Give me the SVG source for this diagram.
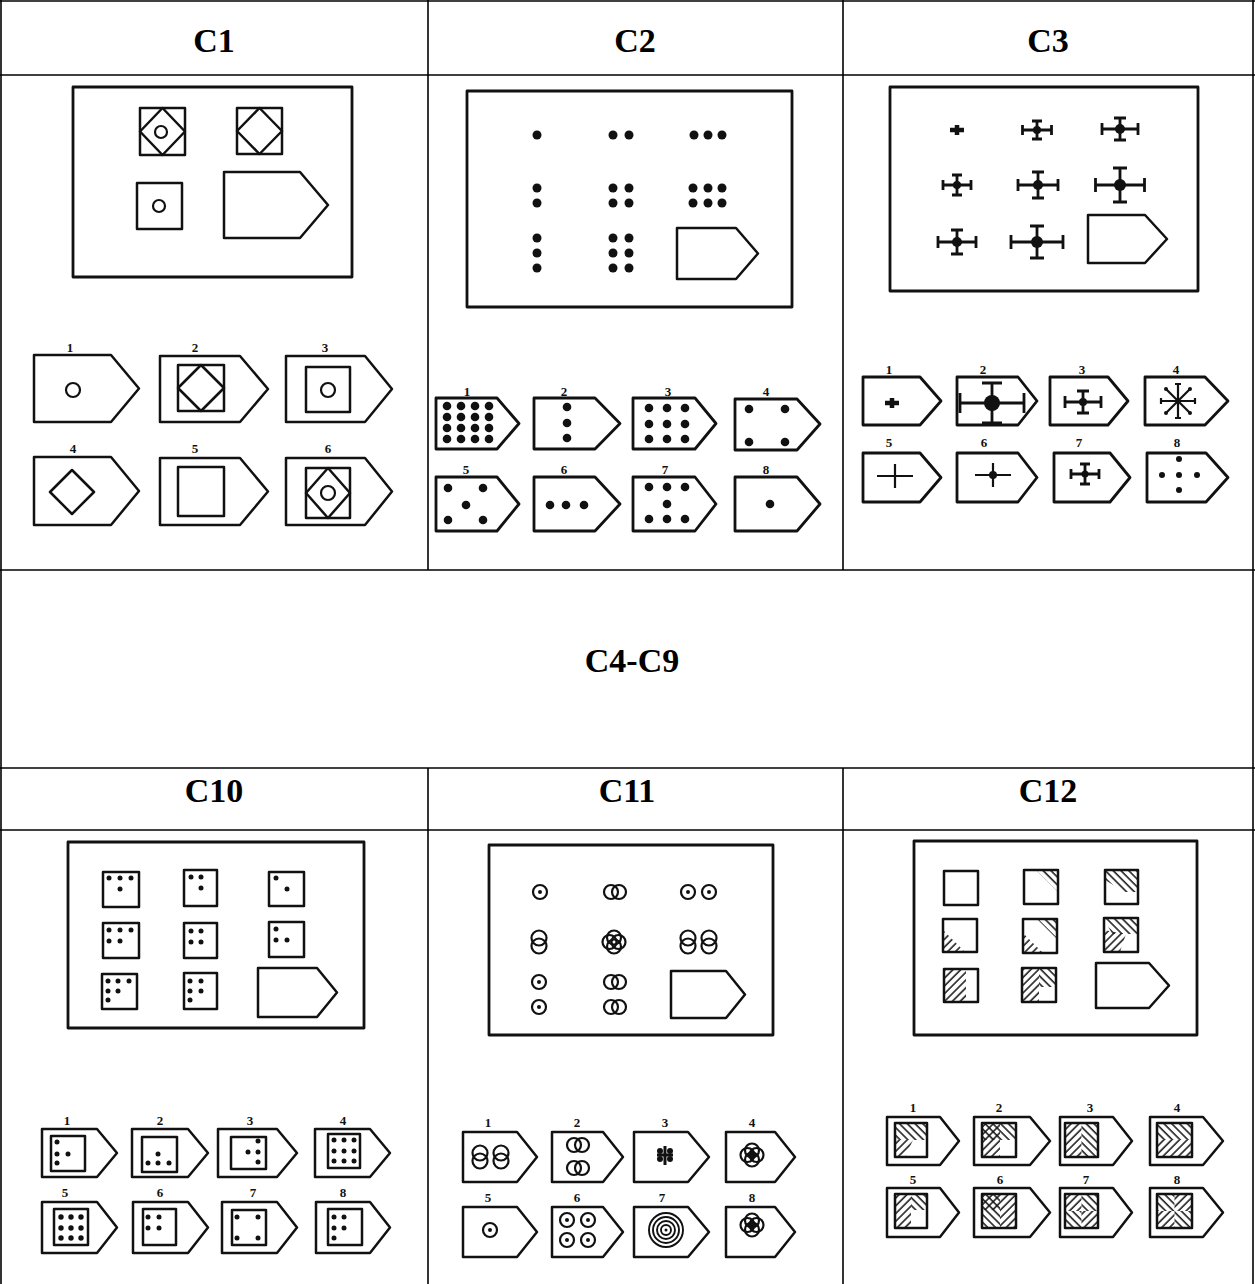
<svg xmlns="http://www.w3.org/2000/svg" width="1255" height="1284" viewBox="0 0 1255 1284">
<style>
.grid{stroke:#000;stroke-width:1.6;fill:none}
.hd{font-family:"Liberation Serif",serif;font-weight:bold;font-size:34px;text-anchor:middle;fill:#000}
.lb{font-family:"Liberation Serif",serif;font-weight:bold;font-size:13px;text-anchor:middle;fill:#111}
.bx{fill:none;stroke:#111;stroke-width:2.8;stroke-linejoin:round}
.sh{fill:none;stroke:#111;stroke-width:2.5;stroke-linejoin:round}
.th{fill:none;stroke:#111;stroke-width:2.2}
.dt{fill:#111}
.cr{fill:none;stroke:#111;stroke-width:2.8}
</style>
<defs>
<pattern id="hs" patternUnits="userSpaceOnUse" width="5.5" height="5.5" patternTransform="rotate(45)"><line x1="1" y1="0" x2="1" y2="5.5" stroke="#111" stroke-width="1.5"/></pattern>
<pattern id="hb" patternUnits="userSpaceOnUse" width="5.5" height="5.5" patternTransform="rotate(-45)"><line x1="1" y1="0" x2="1" y2="5.5" stroke="#111" stroke-width="1.5"/></pattern>
<g id="cd"><circle r="7" fill="none" stroke="#111" stroke-width="2.2"/><circle r="2" fill="#111"/></g>
<g id="hp" fill="none" stroke="#111" stroke-width="2.2"><circle cx="-4" r="7"/><circle cx="4" r="7"/></g>
<g id="vp" fill="none" stroke="#111" stroke-width="2.2"><circle cy="-4" r="7.5"/><circle cy="4" r="7.5"/></g>
<g id="qc" fill="none" stroke="#111" stroke-width="2.2"><circle cx="-4.5" r="7"/><circle cx="4.5" r="7"/><circle cy="-4.5" r="7"/><circle cy="4.5" r="7"/></g>
</defs>

<g id="table">
<line class="grid" x1="0" y1="1" x2="1255" y2="1"/>
<line class="grid" x1="1" y1="0" x2="1" y2="1284"/>
<line class="grid" x1="1253" y1="0" x2="1253" y2="1284"/>
<line class="grid" x1="0" y1="75" x2="1255" y2="75"/>
<line class="grid" x1="0" y1="570" x2="1255" y2="570"/>
<line class="grid" x1="0" y1="768" x2="1255" y2="768"/>
<line class="grid" x1="0" y1="830" x2="1255" y2="830"/>
<line class="grid" x1="428" y1="0" x2="428" y2="570"/>
<line class="grid" x1="843" y1="0" x2="843" y2="570"/>
<line class="grid" x1="428" y1="768" x2="428" y2="1284"/>
<line class="grid" x1="843" y1="768" x2="843" y2="1284"/>
<text class="hd" x="214" y="52">C1</text>
<text class="hd" x="635" y="52">C2</text>
<text class="hd" x="1048" y="52">C3</text>
<text class="hd" x="632" y="672">C4-C9</text>
<text class="hd" x="214" y="802">C10</text>
<text class="hd" x="627" y="802">C11</text>
<text class="hd" x="1048" y="802">C12</text>
</g>

<!-- C1 -->
<g id="c1">
<rect class="bx" x="73" y="87" width="279" height="190"/>
<rect class="sh" x="140" y="108" width="45" height="47"/>
<path class="sh" d="M162.5,108 L185,131.5 L162.5,155 L140,131.5 Z"/>
<circle class="th" cx="161" cy="132" r="6"/>
<rect class="sh" x="237" y="108" width="45" height="46"/>
<path class="sh" d="M259.5,108 L282,131 L259.5,154 L237,131 Z"/>
<rect class="sh" x="137" y="183" width="45" height="46"/>
<circle class="th" cx="159" cy="206" r="6"/>
<path class="sh" d="M224,172 H300 L328,205 L300,238 H224 Z"/>

<text class="lb" x="70" y="352">1</text>
<path class="sh" d="M34,355 H111 L139,388.5 L111,422 H34 Z"/>
<circle class="th" cx="73" cy="390" r="7"/>
<text class="lb" x="195" y="352">2</text>
<path class="sh" d="M160,356 H240 L268,389 L240,422 H160 Z"/>
<rect class="sh" x="178" y="365" width="46" height="46"/>
<path class="sh" d="M201,365 L224,388 L201,411 L178,388 Z"/>
<text class="lb" x="325" y="352">3</text>
<path class="sh" d="M286,356 H365 L392,389 L365,422 H286 Z"/>
<rect class="sh" x="306" y="367" width="44" height="45"/>
<circle class="th" cx="328" cy="390" r="7"/>

<text class="lb" x="73" y="453">4</text>
<path class="sh" d="M34,457 H111 L139,491 L111,525 H34 Z"/>
<path class="sh" d="M72,470 L94,492 L72,514 L50,492 Z"/>
<text class="lb" x="195" y="453">5</text>
<path class="sh" d="M160,458 H240 L268,491.5 L240,525 H160 Z"/>
<rect class="sh" x="178" y="467" width="46" height="49"/>
<text class="lb" x="328" y="453">6</text>
<path class="sh" d="M286,458 H365 L392,491.5 L365,525 H286 Z"/>
<rect class="sh" x="306" y="468" width="44" height="50"/>
<path class="sh" d="M328,468 L350,493 L328,518 L306,493 Z"/>
<circle class="th" cx="328" cy="493" r="7"/>
</g>

<!-- C2 -->
<g id="c2">
<rect class="bx" x="467" y="91" width="325" height="216"/>
<g class="dt">
<circle cx="537" cy="135" r="4.5"/>
<circle cx="613" cy="135" r="4.5"/><circle cx="629" cy="135" r="4.5"/>
<circle cx="694" cy="135" r="4.5"/><circle cx="708" cy="135" r="4.5"/><circle cx="722" cy="135" r="4.5"/>
<circle cx="537" cy="188" r="4.5"/><circle cx="537" cy="203" r="4.5"/>
<circle cx="613" cy="188" r="4.5"/><circle cx="629" cy="188" r="4.5"/><circle cx="613" cy="203" r="4.5"/><circle cx="629" cy="203" r="4.5"/>
<circle cx="693" cy="188" r="4.5"/><circle cx="708" cy="188" r="4.5"/><circle cx="722" cy="188" r="4.5"/>
<circle cx="693" cy="203" r="4.5"/><circle cx="708" cy="203" r="4.5"/><circle cx="722" cy="203" r="4.5"/>
<circle cx="537" cy="238" r="4.5"/><circle cx="537" cy="253" r="4.5"/><circle cx="537" cy="268" r="4.5"/>
<circle cx="613" cy="238" r="4.5"/><circle cx="629" cy="238" r="4.5"/>
<circle cx="613" cy="253" r="4.5"/><circle cx="629" cy="253" r="4.5"/>
<circle cx="613" cy="268" r="4.5"/><circle cx="629" cy="268" r="4.5"/>
</g>
<path class="sh" d="M677,228 H736 L758,253.5 L736,279 H677 Z"/>

<text class="lb" x="467" y="396">1</text>
<path class="bx" d="M436,398 H497 L519,423.5 L497,449 H436 Z"/>
<g class="dt">
<circle cx="447" cy="406" r="4.3"/><circle cx="461" cy="406" r="4.3"/><circle cx="475" cy="406" r="4.3"/><circle cx="489" cy="406" r="4.3"/>
<circle cx="447" cy="417" r="4.3"/><circle cx="461" cy="417" r="4.3"/><circle cx="475" cy="417" r="4.3"/><circle cx="489" cy="417" r="4.3"/>
<circle cx="447" cy="428" r="4.3"/><circle cx="461" cy="428" r="4.3"/><circle cx="475" cy="428" r="4.3"/><circle cx="489" cy="428" r="4.3"/>
<circle cx="447" cy="439" r="4.3"/><circle cx="461" cy="439" r="4.3"/><circle cx="475" cy="439" r="4.3"/><circle cx="489" cy="439" r="4.3"/>
</g>
<text class="lb" x="564" y="396">2</text>
<path class="bx" d="M534,398 H595 L620,423.5 L595,449 H534 Z"/>
<g class="dt"><circle cx="567" cy="407" r="4.3"/><circle cx="567" cy="423" r="4.3"/><circle cx="567" cy="438" r="4.3"/></g>
<text class="lb" x="668" y="396">3</text>
<path class="bx" d="M633,398 H695 L716,423.5 L695,449 H633 Z"/>
<g class="dt">
<circle cx="649" cy="408" r="4.3"/><circle cx="667" cy="408" r="4.3"/><circle cx="685" cy="408" r="4.3"/>
<circle cx="649" cy="424" r="4.3"/><circle cx="667" cy="424" r="4.3"/><circle cx="685" cy="424" r="4.3"/>
<circle cx="649" cy="439" r="4.3"/><circle cx="667" cy="439" r="4.3"/><circle cx="685" cy="439" r="4.3"/>
</g>
<text class="lb" x="766" y="396">4</text>
<path class="bx" d="M735,399 H797 L820,424 L797,450 H735 Z"/>
<g class="dt"><circle cx="749" cy="409" r="4.3"/><circle cx="785" cy="409" r="4.3"/><circle cx="749" cy="442" r="4.3"/><circle cx="785" cy="442" r="4.3"/></g>

<text class="lb" x="466" y="474">5</text>
<path class="bx" d="M436,477 H497 L519,504 L497,531 H436 Z"/>
<g class="dt"><circle cx="448" cy="488" r="4.3"/><circle cx="483" cy="488" r="4.3"/><circle cx="466" cy="505" r="4.3"/><circle cx="448" cy="520" r="4.3"/><circle cx="483" cy="520" r="4.3"/></g>
<text class="lb" x="564" y="474">6</text>
<path class="bx" d="M534,477 H595 L620,504 L595,531 H534 Z"/>
<g class="dt"><circle cx="550" cy="505" r="4.3"/><circle cx="566" cy="505" r="4.3"/><circle cx="584" cy="505" r="4.3"/></g>
<text class="lb" x="665" y="474">7</text>
<path class="bx" d="M633,477 H695 L716,504 L695,531 H633 Z"/>
<g class="dt"><circle cx="649" cy="487" r="4.3"/><circle cx="667" cy="487" r="4.3"/><circle cx="685" cy="487" r="4.3"/><circle cx="667" cy="504" r="4.3"/><circle cx="649" cy="519" r="4.3"/><circle cx="667" cy="519" r="4.3"/><circle cx="685" cy="519" r="4.3"/></g>
<text class="lb" x="766" y="474">8</text>
<path class="bx" d="M735,477 H797 L820,504 L797,531 H735 Z"/>
<circle class="dt" cx="770" cy="504" r="4.3"/>
</g>

<!-- C3 -->
<g id="c3">
<rect class="bx" x="890" y="87" width="308" height="204"/>
<path d="M950,130 H964 M957,125 V135" stroke="#111" stroke-width="4.5" fill="none"/>
<g class="cr">
<path d="M1022.5,130 H1051.5 M1037,121 V139 M1022.5,125 V135 M1051.5,125 V135 M1032,121 H1042 M1032,139 H1042"/>
<path d="M1102,129 H1138 M1120,118 V140 M1102,123 V135 M1138,123 V135 M1114,118 H1126 M1114,140 H1126"/>
<path d="M943,185 H971 M957,175 V195 M943,180 V190 M971,180 V190 M952,175 H962 M952,195 H962"/>
<path d="M1018,185 H1058 M1038,172 V198 M1018,179 V191 M1058,179 V191 M1032,172 H1044 M1032,198 H1044"/>
<path d="M1095.5,185 H1144.5 M1120,168 V202 M1095.5,178 V192 M1144.5,178 V192 M1113,168 H1127 M1113,202 H1127"/>
<path d="M938,242 H976 M957,230 V254 M938,236 V248 M976,236 V248 M951,230 H963 M951,254 H963"/>
<path d="M1011,242 H1063 M1037,226 V258 M1011,235 V249 M1063,235 V249 M1030,226 H1044 M1030,258 H1044"/>
</g>
<g class="dt">
<circle cx="1037" cy="130" r="4"/><circle cx="1120" cy="129" r="5"/>
<circle cx="957" cy="185" r="4"/><circle cx="1038" cy="185" r="5"/><circle cx="1120" cy="185" r="6"/>
<circle cx="957" cy="242" r="5"/><circle cx="1037" cy="242" r="6"/>
</g>
<path class="sh" d="M1088,215 H1145 L1167,239 L1145,263 H1088 Z"/>

<text class="lb" x="889" y="374">1</text>
<path class="bx" d="M863,377 H920 L941,401 L920,425 H863 Z"/>
<path d="M885,403 H899 M892,398 V408" stroke="#111" stroke-width="4.5" fill="none"/>
<text class="lb" x="983" y="374">2</text>
<path class="bx" d="M957,377 H1018 L1037,401 L1018,425 H957 Z"/>
<path class="cr" d="M960,403 H1024 M992,383 V423 M960,393 V413 M1024,393 V413 M982,383 H1002 M982,423 H1002"/>
<circle class="dt" cx="992" cy="403" r="8"/>
<text class="lb" x="1082" y="374">3</text>
<path class="bx" d="M1050,377 H1108 L1128,401 L1108,425 H1050 Z"/>
<path class="cr" d="M1065,402 H1101 M1083,391 V413 M1065,396 V408 M1101,396 V408 M1077,391 H1089 M1077,413 H1089"/>
<circle class="dt" cx="1083" cy="402" r="4"/>
<text class="lb" x="1176" y="374">4</text>
<path class="bx" d="M1145,377 H1205 L1228,401 L1205,425 H1145 Z"/>
<path class="th" d="M1161,401 H1195 M1178,384 V418 M1166,389 L1190,413 M1190,389 L1166,413 M1161,398 V404 M1195,398 V404 M1175,384 H1181 M1175,418 H1181"/>
<g class="dt"><circle cx="1166" cy="389" r="2"/><circle cx="1190" cy="413" r="2"/><circle cx="1190" cy="389" r="2"/><circle cx="1166" cy="413" r="2"/></g>

<text class="lb" x="889" y="447">5</text>
<path class="bx" d="M863,453 H920 L941,477.5 L920,502 H863 Z"/>
<path class="th" d="M877,476 H913 M895,464 V488"/>
<text class="lb" x="984" y="447">6</text>
<path class="bx" d="M957,453 H1018 L1037,477.5 L1018,502 H957 Z"/>
<path class="th" d="M975,475 H1011 M993,463 V487"/>
<circle class="dt" cx="993" cy="475" r="4"/>
<text class="lb" x="1079" y="447">7</text>
<path class="bx" d="M1054,453 H1110 L1130,477.5 L1110,502 H1054 Z"/>
<path class="cr" d="M1071,474 H1099 M1085,464 V484 M1071,469 V479 M1099,469 V479 M1080,464 H1090 M1080,484 H1090"/>
<circle class="dt" cx="1085" cy="474" r="3.5"/>
<text class="lb" x="1177" y="447">8</text>
<path class="bx" d="M1147,453 H1206 L1228,477.5 L1206,502 H1147 Z"/>
<g class="dt"><circle cx="1179" cy="475" r="3"/><circle cx="1179" cy="459" r="3"/><circle cx="1179" cy="490" r="3"/><circle cx="1162" cy="475" r="3"/><circle cx="1197" cy="475" r="3"/></g>
</g>

<!-- C10 -->
<g id="c10">
<rect class="bx" x="68" y="842" width="296" height="186"/>
<g class="sh">
<rect x="103" y="872" width="36" height="35"/><rect x="184" y="870" width="33" height="36"/><rect x="269" y="872" width="35" height="34"/>
<rect x="103" y="923" width="36" height="35"/><rect x="184" y="923" width="33" height="35"/><rect x="269" y="922" width="35" height="35"/>
<rect x="102" y="974" width="35" height="35"/><rect x="184" y="973" width="33" height="36"/>
</g>
<g class="dt">
<circle cx="109" cy="878" r="2.5"/><circle cx="120" cy="878" r="2.5"/><circle cx="131" cy="878" r="2.5"/><circle cx="120" cy="889" r="2.5"/>
<circle cx="191" cy="877" r="2.5"/><circle cx="201" cy="877" r="2.5"/><circle cx="201" cy="888" r="2.5"/>
<circle cx="276" cy="878" r="2.5"/><circle cx="287" cy="889" r="2.5"/>
<circle cx="109" cy="930" r="2.5"/><circle cx="120" cy="930" r="2.5"/><circle cx="131" cy="930" r="2.5"/><circle cx="109" cy="941" r="2.5"/><circle cx="120" cy="941" r="2.5"/>
<circle cx="191" cy="931" r="2.5"/><circle cx="201" cy="931" r="2.5"/><circle cx="191" cy="942" r="2.5"/><circle cx="201" cy="942" r="2.5"/>
<circle cx="276" cy="929" r="2.5"/><circle cx="276" cy="940" r="2.5"/><circle cx="287" cy="940" r="2.5"/>
<circle cx="108" cy="981" r="2.5"/><circle cx="118" cy="981" r="2.5"/><circle cx="129" cy="981" r="2.5"/><circle cx="108" cy="991" r="2.5"/><circle cx="118" cy="991" r="2.5"/><circle cx="108" cy="1000" r="2.5"/>
<circle cx="190" cy="981" r="2.5"/><circle cx="201" cy="981" r="2.5"/><circle cx="190" cy="991" r="2.5"/><circle cx="201" cy="991" r="2.5"/><circle cx="190" cy="1000" r="2.5"/>
</g>
<path class="sh" d="M258,968 H317 L337,992.5 L317,1017 H258 Z"/>

<text class="lb" x="67" y="1125">1</text>
<path class="sh" d="M42,1129 H97 L117,1153 L97,1177 H42 Z"/>
<rect class="sh" x="51" y="1136" width="34" height="35"/>
<text class="lb" x="160" y="1125">2</text>
<path class="sh" d="M132,1129 H188 L208,1153 L188,1177 H132 Z"/>
<rect class="sh" x="142" y="1137" width="35" height="35"/>
<text class="lb" x="250" y="1125">3</text>
<path class="sh" d="M218,1129 H277 L297,1153 L277,1177 H218 Z"/>
<rect class="sh" x="231" y="1137" width="35" height="32"/>
<text class="lb" x="343" y="1125">4</text>
<path class="sh" d="M315,1129 H370 L390,1153 L370,1177 H315 Z"/>
<rect class="sh" x="328" y="1134" width="32" height="34"/>
<g class="dt">
<circle cx="57" cy="1142" r="2.5"/><circle cx="57" cy="1154" r="2.5"/><circle cx="68" cy="1154" r="2.5"/><circle cx="57" cy="1163" r="2.5"/>
<circle cx="158" cy="1154" r="2.5"/><circle cx="148" cy="1163" r="2.5"/><circle cx="158" cy="1163" r="2.5"/><circle cx="169" cy="1163" r="2.5"/>
<circle cx="258" cy="1141" r="2.5"/><circle cx="248" cy="1152" r="2.5"/><circle cx="258" cy="1152" r="2.5"/><circle cx="258" cy="1162" r="2.5"/>
<circle cx="334" cy="1140" r="2.5"/><circle cx="344" cy="1140" r="2.5"/><circle cx="354" cy="1140" r="2.5"/>
<circle cx="334" cy="1151" r="2.5"/><circle cx="344" cy="1151" r="2.5"/><circle cx="354" cy="1151" r="2.5"/>
<circle cx="334" cy="1161" r="2.5"/><circle cx="344" cy="1161" r="2.5"/><circle cx="354" cy="1161" r="2.5"/>
</g>

<text class="lb" x="65" y="1197">5</text>
<path class="sh" d="M42,1202 H97 L117,1227.5 L97,1253 H42 Z"/>
<rect class="sh" x="54" y="1209" width="34" height="36"/>
<text class="lb" x="160" y="1197">6</text>
<path class="sh" d="M133,1202 H188 L208,1227.5 L188,1253 H133 Z"/>
<rect class="sh" x="143" y="1209" width="33" height="36"/>
<text class="lb" x="253" y="1197">7</text>
<path class="sh" d="M222,1202 H277 L297,1227.5 L277,1253 H222 Z"/>
<rect class="sh" x="232" y="1210" width="34" height="35"/>
<text class="lb" x="343" y="1197">8</text>
<path class="sh" d="M316,1202 H370 L390,1227.5 L370,1253 H316 Z"/>
<rect class="sh" x="328" y="1209" width="34" height="36"/>
<g class="dt">
<circle cx="61" cy="1217" r="2.7"/><circle cx="71" cy="1217" r="2.7"/><circle cx="81" cy="1217" r="2.7"/>
<circle cx="61" cy="1228" r="2.7"/><circle cx="71" cy="1228" r="2.7"/><circle cx="81" cy="1228" r="2.7"/>
<circle cx="61" cy="1238" r="2.7"/><circle cx="71" cy="1238" r="2.7"/><circle cx="81" cy="1238" r="2.7"/>
<circle cx="148" cy="1217" r="2.5"/><circle cx="159" cy="1217" r="2.5"/><circle cx="148" cy="1228" r="2.5"/><circle cx="159" cy="1228" r="2.5"/>
<circle cx="237" cy="1217" r="2.5"/><circle cx="258" cy="1217" r="2.5"/><circle cx="237" cy="1238" r="2.5"/><circle cx="258" cy="1238" r="2.5"/>
<circle cx="334" cy="1217" r="2.5"/><circle cx="344" cy="1217" r="2.5"/><circle cx="334" cy="1228" r="2.5"/><circle cx="344" cy="1228" r="2.5"/><circle cx="334" cy="1238" r="2.5"/>
</g>
</g>

<!-- C11 -->
<g id="c11">
<rect class="bx" x="489" y="845" width="284" height="190"/>
<use href="#cd" x="540" y="892"/>
<use href="#hp" x="615" y="892"/>
<use href="#cd" x="688" y="892"/><use href="#cd" x="709" y="892"/>
<use href="#vp" x="539" y="942"/>
<use href="#qc" x="614" y="942"/>
<use href="#vp" x="688" y="942"/><use href="#vp" x="709" y="942"/>
<use href="#cd" x="539" y="982"/><use href="#cd" x="539" y="1007"/>
<use href="#hp" x="615" y="982"/><use href="#hp" x="615" y="1007"/>
<path class="sh" d="M671,971 H726 L745,994.5 L726,1018 H671 Z"/>

<text class="lb" x="488" y="1127">1</text>
<path class="sh" d="M463,1132 H517 L537,1157 L517,1182 H463 Z"/>
<use href="#vp" x="480" y="1157"/><use href="#vp" x="501" y="1157"/>
<text class="lb" x="577" y="1127">2</text>
<path class="sh" d="M552,1132 H603 L623,1157 L603,1182 H552 Z"/>
<use href="#hp" x="578" y="1145"/><use href="#hp" x="578" y="1168"/>
<text class="lb" x="665" y="1127">3</text>
<path class="sh" d="M634,1132 H688 L709,1157 L688,1182 H634 Z"/>
<path d="M657,1155 H673 M665,1146 V1165" stroke="#111" stroke-width="3" fill="none"/>
<g class="dt"><circle cx="660" cy="1151" r="3"/><circle cx="670" cy="1151" r="3"/><circle cx="660" cy="1159" r="3"/><circle cx="670" cy="1159" r="3"/></g>
<text class="lb" x="752" y="1127">4</text>
<path class="sh" d="M726,1132 H775 L795,1157 L775,1182 H726 Z"/>
<use href="#qc" x="752" y="1155"/>
<path class="th" d="M747,1155 H757 M752,1150 V1160"/>

<text class="lb" x="488" y="1202">5</text>
<path class="sh" d="M463,1207 H517 L537,1232 L517,1257 H463 Z"/>
<use href="#cd" x="490" y="1230"/>
<text class="lb" x="577" y="1202">6</text>
<path class="sh" d="M552,1207 H603 L623,1232 L603,1257 H552 Z"/>
<use href="#cd" x="567" y="1220"/><use href="#cd" x="588" y="1220"/><use href="#cd" x="567" y="1240"/><use href="#cd" x="588" y="1240"/>
<text class="lb" x="662" y="1202">7</text>
<path class="sh" d="M634,1207 H688 L709,1232 L688,1257 H634 Z"/>
<g fill="none" stroke="#111" stroke-width="1.9"><circle cx="666" cy="1230" r="17"/><circle cx="666" cy="1230" r="13"/><circle cx="666" cy="1230" r="9"/><circle cx="666" cy="1230" r="5"/></g>
<circle class="dt" cx="666" cy="1230" r="1.5"/>
<text class="lb" x="752" y="1202">8</text>
<path class="sh" d="M726,1207 H775 L795,1232 L775,1257 H726 Z"/>
<use href="#qc" x="752" y="1225"/>
<path d="M746,1225 H758 M752,1219 V1231" stroke="#111" stroke-width="2.5" fill="none"/>
</g>

<!-- C12 -->
<g id="c12">
<rect class="bx" x="914" y="841" width="283" height="194"/>
<polygon fill="url(#hb)" points="1036,870 1058,870 1058,892"/>
<polygon fill="url(#hb)" points="1105,870 1138,870 1138,892 1125,892 1105,880"/>
<polygon fill="url(#hs)" points="943,930 943,952 965,952"/>
<polygon fill="url(#hb)" points="1037,919 1057,919 1057,939"/>
<polygon fill="url(#hs)" points="1023,933 1023,953 1043,953"/>
<polygon fill="url(#hb)" points="1104,918 1138,918 1138,934 1112,934"/>
<polygon fill="url(#hs)" points="1104,930 1126,934 1120,952 1104,952"/>
<polygon fill="url(#hs)" points="944,969 966,969 966,1002 944,1002"/>
<polygon fill="url(#hs)" points="1022,968 1039,968 1039,1002 1022,1002"/>
<polygon fill="url(#hb)" points="1039,968 1056,968 1056,987 1039,987"/>
<g class="sh">
<rect x="944" y="871" width="34" height="34"/><rect x="1024" y="870" width="34" height="34"/><rect x="1105" y="870" width="33" height="34"/>
<rect x="943" y="919" width="34" height="33"/><rect x="1023" y="919" width="34" height="34"/><rect x="1104" y="918" width="34" height="34"/>
<rect x="944" y="969" width="34" height="33"/><rect x="1022" y="968" width="34" height="34"/>
</g>
<path class="sh" d="M1096,963 H1149 L1169,985.5 L1149,1008 H1096 Z"/>

<text class="lb" x="913" y="1112">1</text>
<path class="sh" d="M887,1117 H940 L959,1141 L940,1165 H887 Z"/>
<polygon fill="url(#hb)" points="895,1123 927,1123 927,1140 895,1140"/>
<polygon fill="url(#hs)" points="895,1140 913,1140 905,1157 895,1157"/>
<rect class="sh" x="895" y="1123" width="32" height="34"/>
<text class="lb" x="999" y="1112">2</text>
<path class="sh" d="M974,1117 H1030 L1050,1141 L1030,1165 H974 Z"/>
<polygon fill="url(#hb)" points="982,1123 1016,1123 1016,1140 982,1140"/>
<polygon fill="url(#hs)" points="982,1123 1000,1123 1000,1157 982,1157"/>
<rect class="sh" x="982" y="1123" width="34" height="34"/>
<text class="lb" x="1090" y="1112">3</text>
<path class="sh" d="M1060,1117 H1113 L1132,1141 L1113,1165 H1060 Z"/>
<polygon fill="url(#hs)" points="1065,1123 1081.5,1123 1081.5,1157 1065,1157"/>
<polygon fill="url(#hb)" points="1081.5,1123 1098,1123 1098,1157 1081.5,1157"/>
<rect class="sh" x="1065" y="1123" width="33" height="34"/>
<text class="lb" x="1177" y="1112">4</text>
<path class="sh" d="M1150,1117 H1203 L1223,1141 L1203,1165 H1150 Z"/>
<polygon fill="url(#hb)" points="1157,1123 1192,1123 1192,1140 1157,1140"/>
<polygon fill="url(#hs)" points="1157,1140 1192,1140 1192,1157 1157,1157"/>
<rect class="sh" x="1157" y="1123" width="35" height="34"/>

<text class="lb" x="913" y="1184">5</text>
<path class="sh" d="M887,1188 H940 L959,1212.5 L940,1237 H887 Z"/>
<polygon fill="url(#hs)" points="895,1194 911,1194 911,1228 895,1228"/>
<polygon fill="url(#hb)" points="911,1194 927,1194 927,1210 911,1210"/>
<rect class="sh" x="895" y="1194" width="32" height="34"/>
<text class="lb" x="1000" y="1184">6</text>
<path class="sh" d="M974,1188 H1030 L1050,1212.5 L1030,1237 H974 Z"/>
<polygon fill="url(#hb)" points="982,1194 1000,1194 1000,1228 982,1228"/>
<polygon fill="url(#hs)" points="982,1194 1016,1194 1016,1228 1000,1228 1000,1210 982,1210"/>
<rect class="sh" x="982" y="1194" width="34" height="34"/>
<text class="lb" x="1086" y="1184">7</text>
<path class="sh" d="M1060,1188 H1113 L1132,1212.5 L1113,1237 H1060 Z"/>
<polygon fill="url(#hs)" points="1065,1194 1081.5,1194 1081.5,1211 1065,1211"/>
<polygon fill="url(#hb)" points="1081.5,1194 1098,1194 1098,1211 1081.5,1211"/>
<polygon fill="url(#hb)" points="1065,1211 1081.5,1211 1081.5,1228 1065,1228"/>
<polygon fill="url(#hs)" points="1081.5,1211 1098,1211 1098,1228 1081.5,1228"/>
<rect class="sh" x="1065" y="1194" width="33" height="34"/>
<text class="lb" x="1177" y="1184">8</text>
<path class="sh" d="M1150,1188 H1203 L1223,1212.5 L1203,1237 H1150 Z"/>
<polygon fill="url(#hb)" points="1157,1194 1174.5,1194 1174.5,1211 1157,1211"/>
<polygon fill="url(#hs)" points="1174.5,1194 1192,1194 1192,1211 1174.5,1211"/>
<polygon fill="url(#hs)" points="1157,1211 1174.5,1211 1174.5,1228 1157,1228"/>
<polygon fill="url(#hb)" points="1174.5,1211 1192,1211 1192,1228 1174.5,1228"/>
<rect class="sh" x="1157" y="1194" width="35" height="34"/>
</g>
</svg>
